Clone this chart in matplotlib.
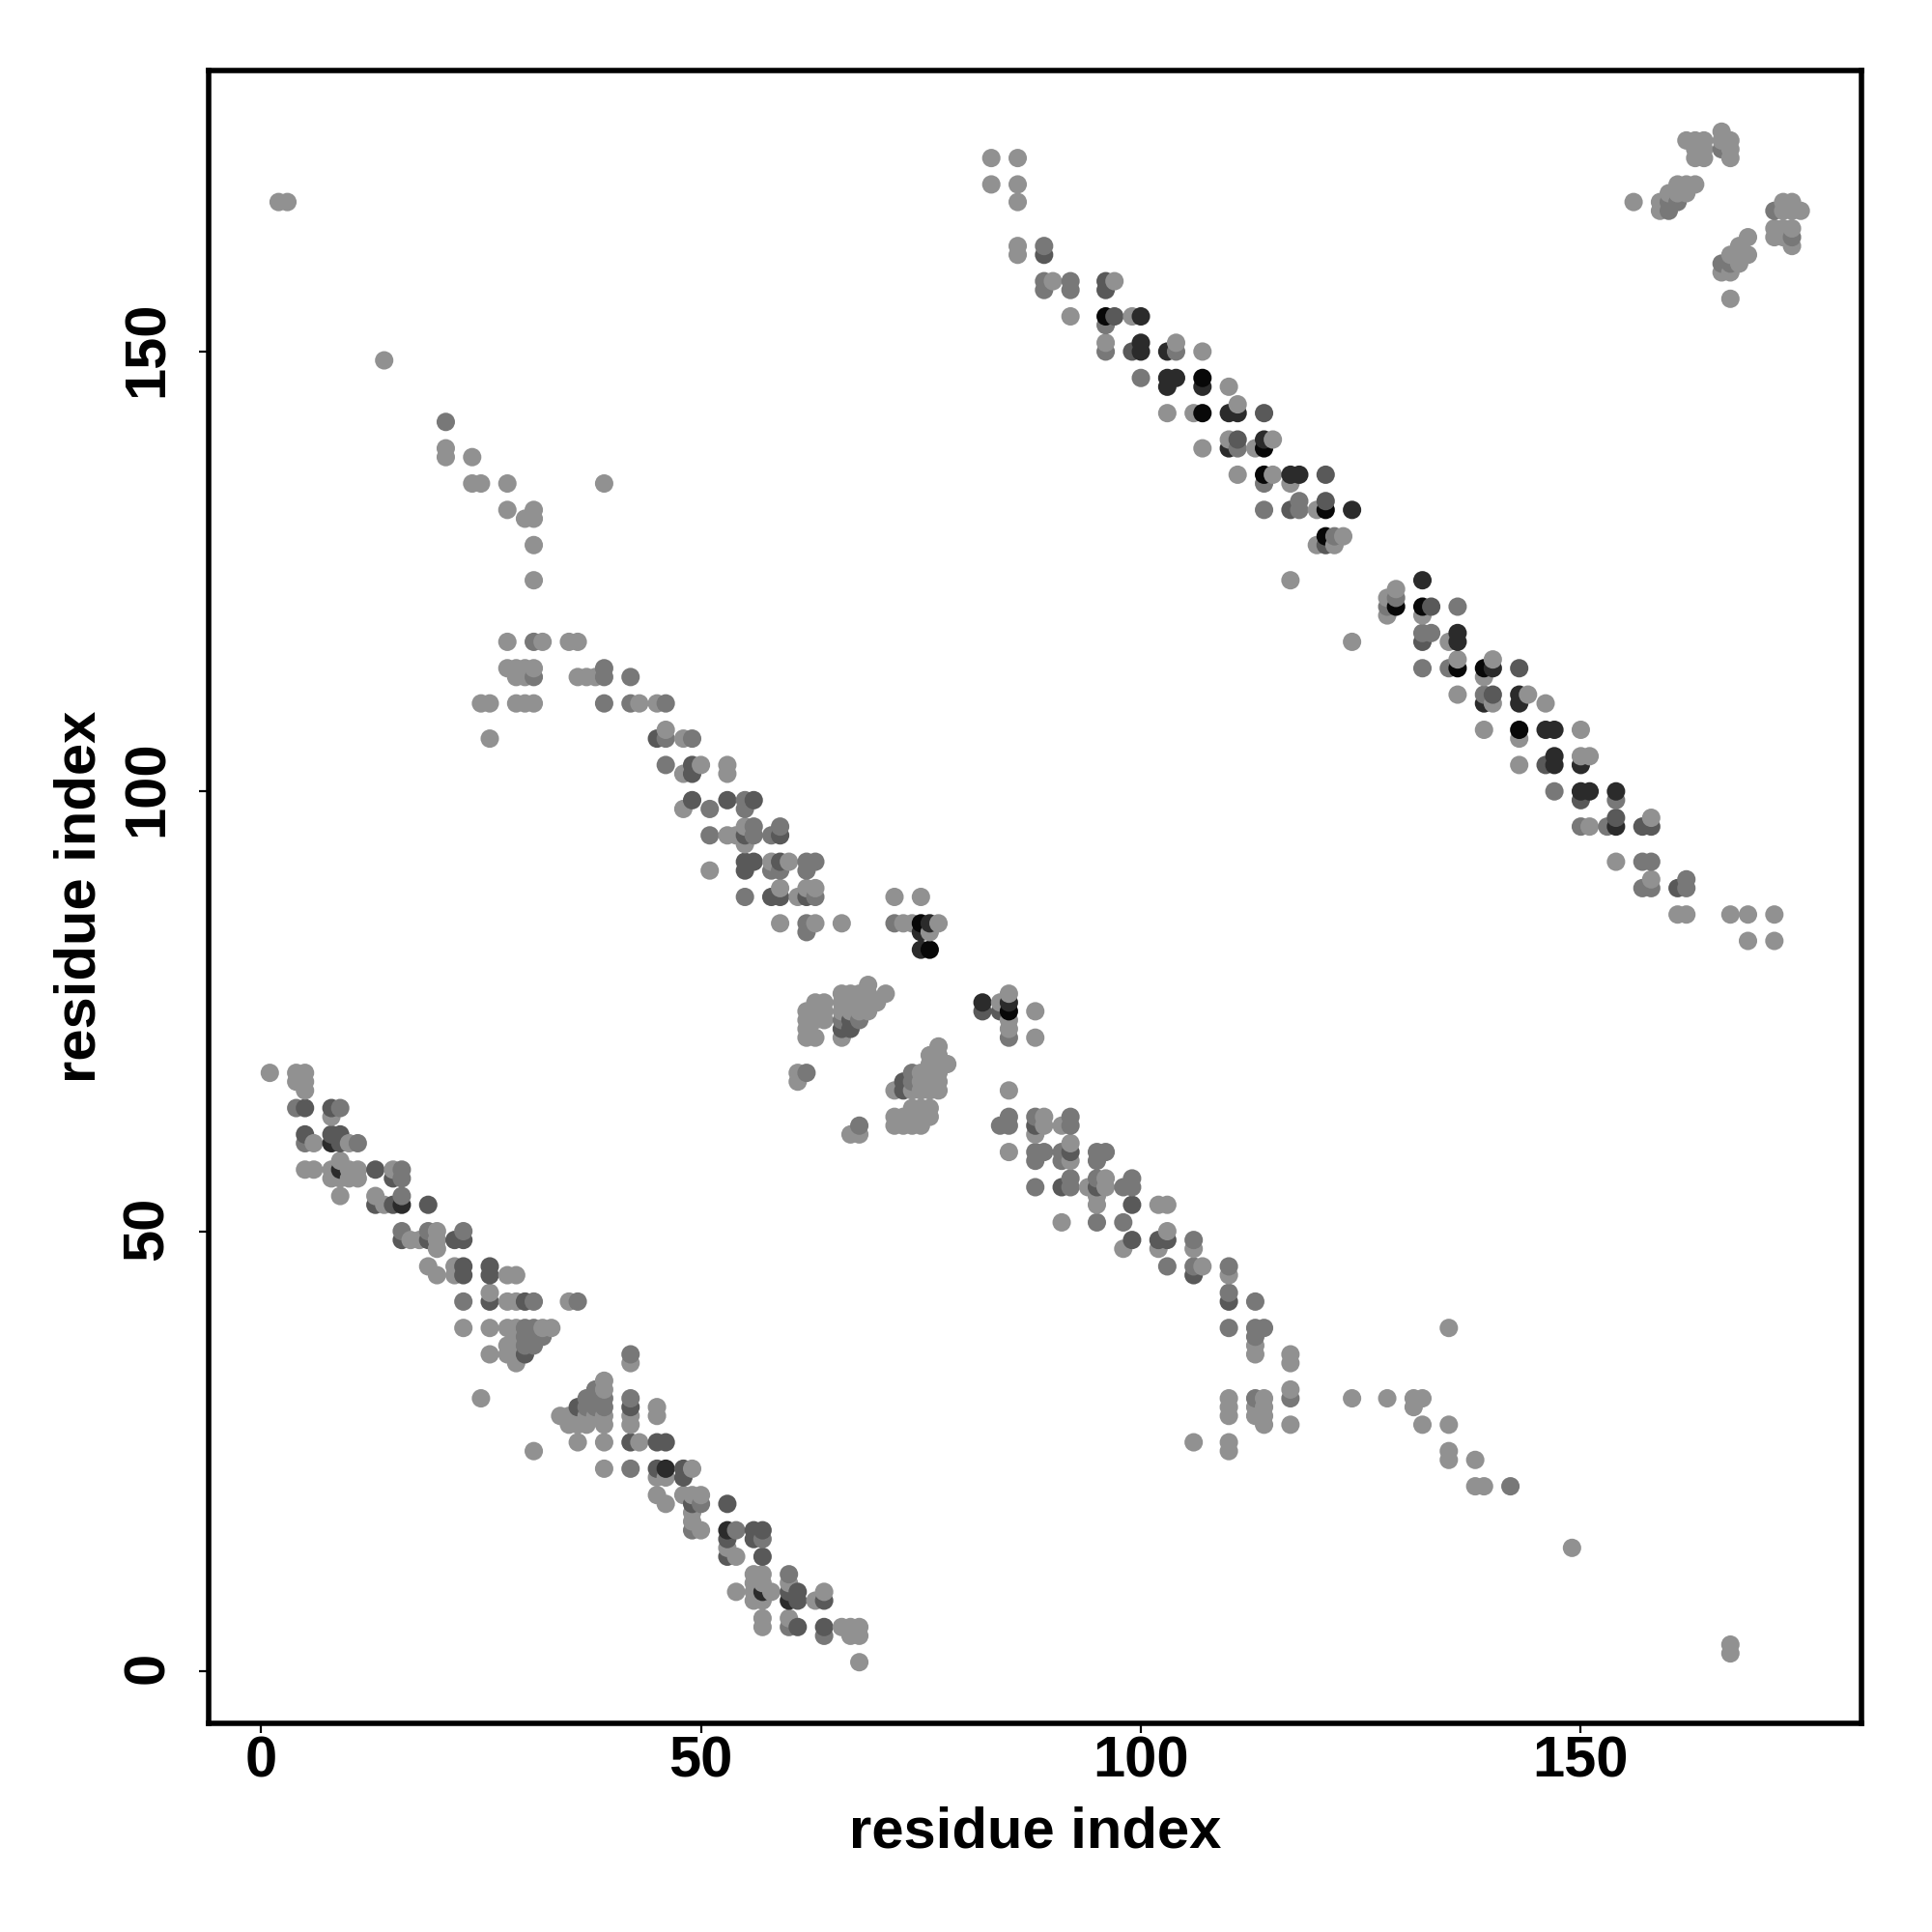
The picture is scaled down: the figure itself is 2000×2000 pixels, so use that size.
import matplotlib

matplotlib.use("Agg")

import matplotlib.pyplot as plt
from matplotlib.transforms import ScaledTranslation

# contacts (residue i, residue j), grouped by how dark the dot is
light = [
    (1,68),(4,68),(5,68),(4,67),(5,67),(5,66),(8,63),(6,60),(10,60),(5,57),(6,57),(8,57),(9,58),(10,57),(11,57),
    (15,57),(8,56),(9,56),(10,56),(11,56),(9,54),(13,54),(14,53),(20,50),(17,49),(18,49),(20,49),(20,48),(19,46),
    (20,45),(22,46),(22,45),(28,45),(29,45),(26,43),(28,42),(29,42),(35,42),(23,39),(26,39),(28,39),(29,39),(32,39),
    (33,39),(29,38),(28,37),(29,37),(26,36),(28,36),(29,36),(29,35),(25,31),(31,25),(42,35),(39,33),(39,32),
    (34,29),(35,29),(36,29),(37,29),(38,29),(39,29),(35,28),(36,28),(37,28),(39,28),(42,29),(42,28),(45,30),(45,29),
    (36,26),(39,26),(43,26),(39,23),(49,23),(45,22),(46,22),(45,20),(46,19),(48,20),(49,20),(50,20),(49,18),(49,17),
    (50,16),(53,14),(54,13),(56,11),(57,11),(56,10),(57,10),(60,10),(54,9),(56,9),(58,9),(64,9),(56,8),(57,8),(63,8),
    (57,6),(60,6),(57,5),(66,5),(67,5),(68,5),(67,4),(68,4),(68,1),
    (2,167),(3,167),(14,149),(21,139),(21,138),(24,138),(24,135),(25,135),(28,135),(39,135),(28,132),(30,131),(31,132),
    (31,131),(31,128),(31,124),(28,117),(32,117),(35,117),(36,117),(28,114),(29,114),(30,114),(31,114),(29,113),(30,113),
    (36,113),(37,113),(38,113),(25,110),(26,110),(29,110),(30,110),(31,110),(26,106),(43,110),(45,110),(46,107),(48,106),
    (50,103),(53,103),(48,102),(53,102),(48,98),(55,96),(53,95),(54,95),(55,94),(58,92),(60,92),(51,91),(59,89),(62,89),
    (63,89),(61,88),(72,88),(75,88),(59,85),(63,85),(66,85),(73,85),(74,85),(77,85),(76,84),
    (62,75),(63,76),(64,76),(63,75),(64,75),(62,74),(63,74),(64,74),(62,73),(62,72),(63,72),(66,77),(67,77),(68,77),
    (69,78),(69,77),(71,77),(66,76),(67,76),(68,76),(69,76),(70,76),(66,75),(67,75),(68,75),(69,75),(66,72),
    (61,68),(61,67),(67,61),(68,61),(77,71),(76,70),(77,70),(78,69),(76,69),(77,69),(75,68),(76,68),(77,68),(75,67),
    (76,67),(77,67),(72,66),(74,66),(75,66),(76,66),(77,66),(74,64),(75,64),(76,64),(72,63),(73,63),(74,63),(75,63),
    (76,63),(72,62),(73,62),(74,62),(75,62),(84,76),(85,77),(85,74),(85,73),(88,75),(88,72),(85,66),(89,63),(89,62),
    (88,61),(91,62),(85,59),(92,60),(92,58),(94,55),(96,56),(96,55),(95,54),(95,53),(102,53),(103,53),(91,51),(98,48),
    (103,50),(102,48),(106,48),(107,46),(110,45),(113,37),(113,36),(117,36),(117,35),(117,32),(117,28),(110,31),(110,30),
    (110,29),(114,31),(113,30),(114,30),(113,29),(114,29),(114,28),(124,31),(128,31),(131,31),(132,31),(131,30),(132,28),
    (135,28),(135,39),(106,26),(110,26),(110,25),(135,25),(135,24),(138,24),(138,21),(139,21),(149,14),(167,3),(167,2),
    (83,172),(86,172),(83,169),(86,169),(86,167),(86,162),(86,161),(90,158),(92,154),(97,158),(96,151),(99,154),(104,151),
    (107,150),(110,146),(103,143),(106,143),(111,144),(107,139),(110,140),(113,139),(115,140),(111,136),(115,136),
    (117,135),(120,132),(123,129),(120,128),(122,128),(117,124),(129,123),(128,122),(128,120),(132,120),(135,117),(124,117),
    (136,115),(140,115),(139,113),(136,111),(140,110),(144,111),(146,110),(139,107),(143,106),(150,107),(143,103),(150,104),
    (151,104),(151,96),(154,92),(158,97),(158,90),(161,86),(162,86),(167,86),(169,86),(172,86),(169,83),(172,83),
    (156,167),(159,166),(159,167),(160,168),(161,168),(162,168),(161,169),(162,169),(163,169),(162,174),(163,174),(164,174),
    (163,173),(164,173),(163,172),(164,172),(166,175),(166,174),(167,174),(167,173),(167,172),(167,161),(168,160),(168,161),
    (168,162),(169,161),(169,163),(167,156),(166,159),(167,159),(173,167),(174,167),(173,166),(174,166),(175,166),(172,164),
    (173,164),(174,164),(172,163),(173,163),(174,162),
]
medium = [
    (4,64),(9,64),(5,60),(11,60),(16,57),(16,56),(16,54),(16,50),(19,50),(23,50),(23,42),(31,42),(36,42),(30,39),(31,39),
    (30,38),(31,38),(32,38),(30,37),(31,37),(42,36),(38,32),(37,31),(38,31),(39,31),(37,30),(38,30),
    (39,30),(42,31),(42,23),(50,19),(49,16),(54,16),(57,15),(60,11),(60,5),(64,4),
    (21,142),(31,117),(42,113),(39,114),(39,113),(31,113),(39,110),(42,110),(46,110),(46,106),(49,106),(46,103),(51,98),(55,99),
    (55,98),(56,96),(59,96),(51,95),(56,95),(58,95),(58,91),(59,91),(62,92),(63,92),(62,91),(55,88),(63,88),(62,85),(72,85),
    (62,84),(66,74),(68,74),(74,68),(74,67),(62,68),(68,62),(85,72),(85,63),(84,62),(85,62),(88,63),(92,63),(92,62),
    (88,59),(89,59),(88,58),(91,59),(91,58),(95,59),(96,59),(95,58),(88,55),(92,56),(92,55),(95,56),(98,55),(99,56),(99,55),
    (95,51),(98,51),(106,49),(103,46),(106,46),(110,46),(110,43),(113,42),(110,39),(113,39),(114,39),(113,38),(117,31),(113,31),
    (142,21),(89,162),(89,158),(89,157),(92,158),(92,157),(96,150),(96,153),(104,150),(100,147),(111,139),(114,135),(114,132),
    (118,133),(118,132),(122,129),(129,122),(128,121),(136,121),(132,118),(133,118),(132,114),(135,114),(139,111),(147,100),
    (154,99),(150,96),(153,96),(157,92),(158,92),(157,89),(158,89),(162,90),(162,89),(160,166),(160,167),(161,167),(172,166),
    (166,160),(167,160),(174,163),(166,173),
]
dark = [
    (5,64),(8,64),(5,61),(8,61),(9,61),(9,60),(13,57),(15,56),(13,53),(15,53),(19,53),(16,49),(19,49),(22,49),(23,49),(23,46),(23,45),
    (26,46),(26,45),(26,42),(30,42),(30,36),(36,30),(42,30),(42,26),(45,26),(46,26),(45,23),(48,23),(48,22),(49,19),(53,19),
    (53,15),(56,16),(57,16),(56,15),(53,13),(57,13),(60,9),(61,9),(61,8),(64,8),(61,5),(64,5),
    (45,106),(49,103),(49,102),(49,99),(53,99),(56,99),(55,95),(59,95),(55,92),(56,92),(59,92),(55,91),(58,88),(59,88),(62,88),
    (66,73),(67,73),(67,74),(73,67),(73,66),(82,75),(84,75),(88,62),(92,59),(91,55),(95,55),(99,53),(99,49),(102,49),(103,49),(106,45),
    (110,42),(96,158),(97,154),(96,157),(89,161),(99,150),(114,143),(111,140),(121,136),(117,132),(121,133),(121,128),(133,121),
    (132,117),(143,114),(140,111),(146,103),(150,99),(154,97),(157,96),(158,96),(161,89),
]
very_dark = [
    (8,60),(9,57),(16,53),(46,23),(53,16),(57,9),(60,8),(75,84),(75,82),(76,85),(82,76),(85,76),
    (100,154),(100,151),(100,150),(103,150),(103,147),(104,147),(103,146),(107,146),(110,143),(111,143),(110,139),(114,140),
    (117,136),(118,136),(124,132),(132,124),(136,118),(136,117),(140,114),(139,110),(143,111),(143,110),(146,107),(147,107),
    (147,104),(147,103),(150,103),(150,100),(151,100),(154,100),(154,96),
]
black = [
    (75,85),(76,82),(85,75),(96,154),(107,147),(107,143),(114,139),(114,136),(121,132),(121,129),(129,121),(132,121),(136,114),
    (139,114),(143,107),
]

shade_groups = [light, medium, dark, very_dark, black]
shade_grays = ["0.57", "0.47", "0.35", "0.17", "0.03"]

tick_values = [0, 50, 100, 150]

plt.rcParams["font.family"] = ["Liberation Sans", "DejaVu Sans"]
plt.rcParams["font.weight"] = "bold"

fig = plt.figure(figsize=(10, 10), dpi=200)
ax = fig.add_axes([0.108, 0.108, 0.8555, 0.8555])

rows = []
for group, gray in zip(shade_groups, shade_grays):
    for x, y in group:
        rows.append((x, y, gray))
rows.sort(key=lambda r: (r[0], r[1]))

ax.scatter([r[0] for r in rows], [r[1] for r in rows], c=[r[2] for r in rows],
           s=47, linewidths=0, clip_on=False)

ax.set_xlim(-5.95, 181.9)
ax.set_ylim(-5.95, 181.95)
ax.set_xticks(tick_values)
ax.set_yticks(tick_values)
ax.tick_params(length=3.6, width=0.8, labelsize=21.5)
ax.tick_params(axis="x", pad=1)
ax.tick_params(axis="y", pad=9)
nudge = ScaledTranslation(0, 3 / 200, fig.dpi_scale_trans)
for label in ax.get_yticklabels():
    label.set_rotation(90)
    label.set_va("center")
    label.set_transform(label.get_transform() + nudge)
for spine in ax.spines.values():
    spine.set_linewidth(2)

ax.set_xlabel("residue index", fontsize=21.5, fontweight="bold", labelpad=6.5)
ax.set_ylabel("residue index", fontsize=21.5, fontweight="bold", labelpad=5.5)

fig.savefig("out.png", dpi=200)
plt.close(fig)
